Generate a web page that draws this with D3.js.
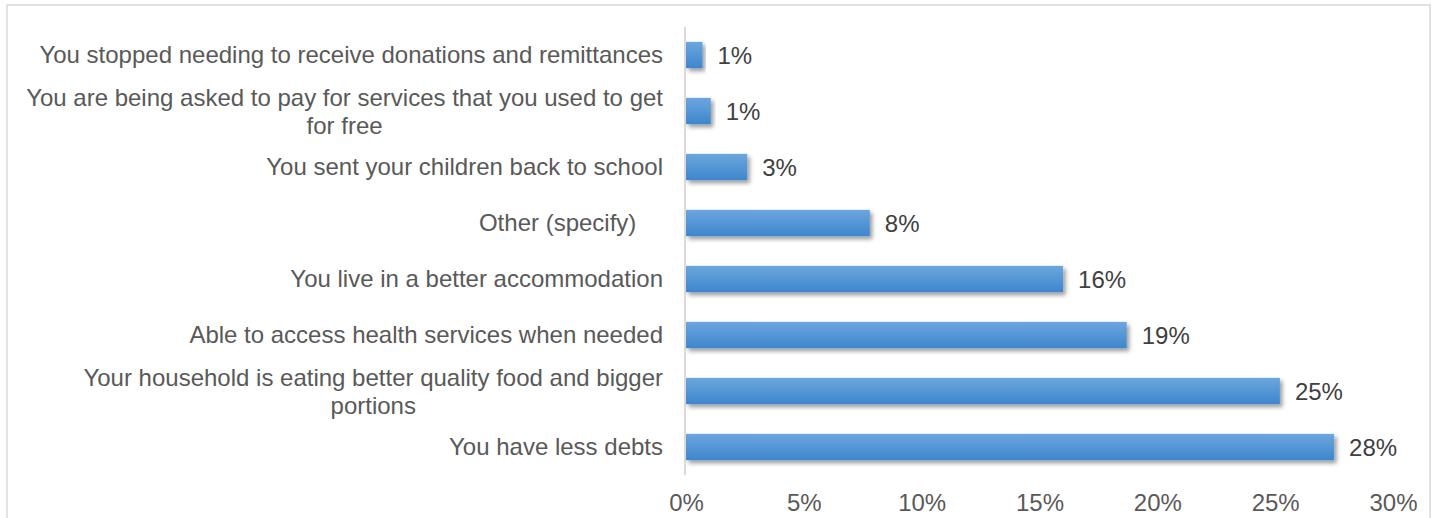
<!DOCTYPE html>
<html>
<head>
<meta charset="utf-8">
<script src="https://cdn.jsdelivr.net/npm/d3@7"></script>
<style>
  html, body { margin: 0; padding: 0; background: #fff; }
  svg text { font-family: "Liberation Sans", Arial, sans-serif; }
</style>
</head>
<body>
<svg id="chart" width="1438" height="518"></svg>
<script>
// Reported changes since receiving assistance (share of households)
const categories = [
  ["You stopped needing to receive donations and remittances"],
  ["You are being asked to pay for services that you used to get", "for free"],
  ["You sent your children back to school"],
  ["Other (specify)    "],
  ["You live in a better accommodation"],
  ["Able to access health services when needed"],
  ["Your household is eating better quality food and bigger", "portions"],
  ["You have less debts"]
];
const shares = [0.007, 0.0105, 0.026, 0.078, 0.160, 0.187, 0.252, 0.275];
const tickValues = [0, 0.05, 0.10, 0.15, 0.20, 0.25, 0.30];

const rows = categories.map((lines, i) => ({ lines, value: shares[i], i }));
const svg = d3.select("#chart");
const pct = d3.format(".0%");
const FS = 24;

// Outer chart frame
svg.append("rect")
  .attr("x", 7).attr("y", 5).attr("width", 1423).attr("height", 530)
  .attr("fill", "none").attr("stroke", "#d9d9d9").attr("stroke-width", 1.5);

const x = d3.scaleLinear().domain([0, 0.30]).range([686, 1393]);
const y = d3.scaleBand().domain(d3.range(rows.length)).range([27, 475]).paddingInner(0.53).paddingOuter(0.265);

const defs = svg.append("defs");
const grad = defs.append("linearGradient").attr("id", "barFill")
  .attr("x1", 0).attr("y1", 0).attr("x2", 0).attr("y2", 1);
grad.append("stop").attr("offset", "0%").attr("stop-color", "#6da6dd");
grad.append("stop").attr("offset", "100%").attr("stop-color", "#3d86ce");

const shadow = defs.append("filter").attr("id", "barShadow")
  .attr("x", "-10%").attr("y", "-30%").attr("width", "130%").attr("height", "180%");
shadow.append("feDropShadow").attr("dx", 2.5).attr("dy", 3).attr("stdDeviation", 2)
  .attr("flood-color", "#000").attr("flood-opacity", 0.4);

// Bars
svg.append("g").selectAll("rect").data(rows).join("rect")
  .attr("x", x(0))
  .attr("y", d => y(d.i))
  .attr("width", d => x(d.value) - x(0))
  .attr("height", y.bandwidth())
  .attr("fill", "url(#barFill)")
  .attr("filter", "url(#barShadow)");

// Category axis line
svg.append("line")
  .attr("x1", 685).attr("x2", 685).attr("y1", 27).attr("y2", 475)
  .attr("stroke", "#d9d9d9").attr("stroke-width", 2);

// Category labels (multi-line labels are centred on their widest line)
const catG = svg.append("g");
rows.forEach(d => {
  const cy = y(d.i) + y.bandwidth() / 2;
  const lh = 28;
  const n = d.lines.length;
  if (n === 1) {
    catG.append("text")
      .attr("fill", "#595959")
      .attr("font-size", FS)
      .style("white-space", "pre")
      .attr("x", 663).attr("y", cy + 8).attr("text-anchor", "end").text(d.lines[0]);
  } else {
    const probe = catG.append("text").attr("font-size", FS).text(d.lines[0]);
    const w = probe.node().getComputedTextLength();
    probe.remove();
    const cx = 663 - w / 2;
    d.lines.forEach((ln, k) => {
      catG.append("text")
        .attr("fill", "#595959")
        .attr("font-size", FS)
        .attr("text-anchor", "middle")
        .attr("x", cx)
        .attr("y", cy + 9 + (k - (n - 1) / 2) * lh)
        .text(ln);
    });
  }
});

// Value labels
svg.append("g").selectAll("text").data(rows).join("text")
  .attr("x", d => x(d.value) + 15)
  .attr("y", d => y(d.i) + y.bandwidth() / 2 + 9)
  .attr("fill", "#404040")
  .attr("font-size", FS)
  .text(d => pct(d.value));

// Value axis
const xAxis = d3.axisBottom(x).tickValues(tickValues).tickFormat(pct).tickSize(0).tickPadding(0);
const ax = svg.append("g").attr("transform", "translate(0,494)").call(xAxis);
ax.select(".domain").remove();
ax.selectAll("text")
  .attr("fill", "#595959")
  .attr("font-size", FS)
  .attr("font-family", "Liberation Sans, Arial, sans-serif")
  .attr("dy", "0.71em");
</script>
</body>
</html>
